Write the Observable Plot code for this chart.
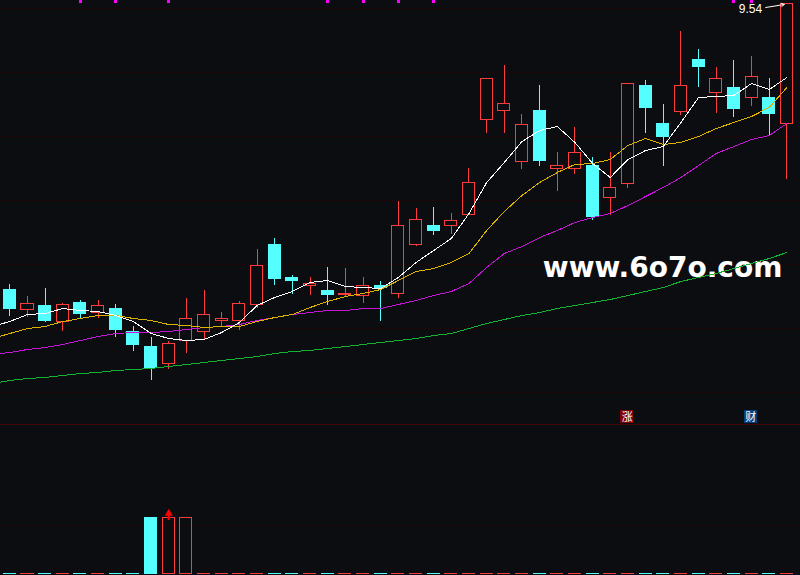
<!DOCTYPE html>
<html><head><meta charset="utf-8">
<script src="https://cdn.jsdelivr.net/npm/d3@7"></script>
<script src="https://cdn.jsdelivr.net/npm/@observablehq/plot@0.6"></script>
<style>html,body{margin:0;padding:0;background:#0c0d11;overflow:hidden}svg{display:block}</style>
</head><body><div id="c"></div>
<script>
const open=[6.68,6.47,6.52,6.35,6.55,6.44,6.49,6.26,6.11,5.93,6.16,6.25,6.36,6.36,6.52,7.13,6.80,6.71,6.67,6.62,6.61,6.72,6.63,7.12,7.32,7.31,7.42,8.37,8.46,7.95,8.47,7.88,7.88,7.92,7.59,7.73,8.72,8.34,8.45,8.98,8.64,8.70,8.59,8.60,8.33];
const close=[6.48,6.54,6.36,6.53,6.43,6.52,6.27,6.12,5.89,6.14,6.39,6.43,6.39,6.54,6.92,6.78,6.76,6.74,6.62,6.64,6.72,6.69,7.32,7.38,7.26,7.37,7.75,8.79,8.54,8.33,7.96,7.92,8.05,7.40,7.70,8.74,8.49,8.20,8.72,8.90,8.79,8.48,8.81,8.43,9.54];
const high=[6.73,6.61,6.69,6.54,6.57,6.57,6.53,6.31,6.20,6.16,6.59,6.67,6.45,6.56,7.08,7.19,6.82,6.80,6.90,6.89,6.80,6.76,7.56,7.49,7.50,7.44,7.89,8.79,8.92,8.43,8.72,8.05,8.30,8.00,8.05,8.74,8.77,8.53,9.26,9.08,8.90,8.97,9.01,8.79,9.54];
const low=[6.41,6.40,6.35,6.26,6.39,6.39,6.20,6.06,5.77,5.88,6.04,6.17,6.30,6.27,6.49,6.72,6.63,6.62,6.52,6.60,6.54,6.36,6.59,7.11,7.22,7.23,7.42,8.24,8.24,7.88,7.91,7.66,7.83,7.37,7.42,7.69,8.24,7.91,8.42,8.70,8.44,8.40,8.51,8.22,7.78];
// moving averages start one session before the first visible candle
const ma5=[6.31,6.36,6.43,6.44,6.49,6.47,6.46,6.42,6.36,6.24,6.19,6.17,6.18,6.25,6.35,6.52,6.60,6.66,6.75,6.77,6.71,6.70,6.69,6.80,6.95,7.07,7.19,7.44,7.75,7.95,8.16,8.27,8.31,8.15,7.94,7.80,7.98,8.07,8.11,8.35,8.60,8.61,8.62,8.74,8.68,8.80];
const ma10=[6.19,6.24,6.29,6.31,6.36,6.39,6.42,6.42,6.39,6.37,6.33,6.32,6.30,6.31,6.31,6.36,6.40,6.43,6.50,6.56,6.61,6.64,6.68,6.77,6.86,6.89,6.95,7.04,7.27,7.46,7.62,7.75,7.85,7.93,7.94,7.98,8.12,8.19,8.13,8.15,8.21,8.29,8.35,8.41,8.50,8.70];
const ma20=[6.03,6.05,6.08,6.10,6.13,6.17,6.21,6.24,6.25,6.25,6.26,6.28,6.30,6.31,6.33,6.37,6.40,6.43,6.45,6.47,6.47,6.49,6.49,6.53,6.57,6.62,6.66,6.74,6.90,7.04,7.11,7.20,7.27,7.35,7.40,7.44,7.52,7.61,7.70,7.80,7.92,8.04,8.11,8.18,8.22,8.34];
const ma60=[5.74,5.77,5.79,5.80,5.82,5.84,5.85,5.87,5.88,5.89,5.91,5.93,5.95,5.97,5.99,6.01,6.04,6.06,6.07,6.09,6.11,6.13,6.15,6.17,6.19,6.22,6.24,6.29,6.34,6.38,6.42,6.45,6.49,6.52,6.55,6.58,6.62,6.66,6.70,6.76,6.80,6.84,6.89,6.94,6.99,7.05];
const volume=[1,1,1,1,1,1,1,1,57,57,57,1,1,1,1,1,1,1,1,1,1,1,1,1,1,1,1,1,1,1,1,1,1,1,1,1,1,1,1,1,1,1,1,1,1];
const priceGrid=[9.49,8.85,8.21,7.57,6.93,6.29,5.65];
const topMarks=[4,6,9,18,20,22,24,41,42];
const badges=[{i:35,t:"涨",c:"#800000"},{i:42,t:"财",c:"#004080"}];

const RED="#ff3c3c",CYAN="#55ffff",GRID="#300707";
const xScale={type:"linear",domain:[-0.527,44.77],range:[0,800]};
const crisp={shapeRendering:"crispEdges"};
const candles=open.map((o,i)=>({i,o,c:close[i],h:high[i],l:low[i],top:Math.max(o,close[i]),bot:Math.min(o,close[i]),up:close[i]>=o,v:volume[i]}));
const ups=candles.filter(d=>d.up), downs=candles.filter(d=>!d.up);
const series=(a)=>a.map((v,k)=>({i:k-1,v}));
const W=0.37;
const line=(a,stroke)=>Plot.line(series(a),{x:"i",y:"v",stroke,strokeWidth:1,curve:"linear",...crisp});

const upper=Plot.plot({
  width:800,height:425,margin:0,
  style:{background:"transparent"},
  x:{...xScale,axis:null},
  y:{domain:[5.32,9.57],range:[425,0],axis:null},
  marks:[
    Plot.ruleY(priceGrid,{stroke:GRID,strokeWidth:1,strokeDasharray:"1 3",...crisp}),
    Plot.ruleY([5.325],{stroke:"#7a0000",strokeWidth:1}),
    Plot.text(["www.6o7o.com"],{x:36.96,y:6.89,fill:"#fff",fontSize:28,fontWeight:"bold",fontFamily:"DejaVu Sans",textAnchor:"middle",lineAnchor:"middle"}),
    Plot.ruleX(ups,{x:"i",y1:"h",y2:"top",stroke:RED,...crisp}),
    Plot.ruleX(ups,{x:"i",y1:"bot",y2:"l",stroke:RED,...crisp}),
    Plot.ruleX(downs,{x:"i",y1:"h",y2:"l",stroke:CYAN,...crisp}),
    Plot.rect(downs,{x1:d=>d.i-W,x2:d=>d.i+W,y1:"top",y2:"bot",fill:CYAN,...crisp}),
    Plot.rect(ups,{x1:d=>d.i-W,x2:d=>d.i+W,y1:"top",y2:"bot",fill:"none",stroke:RED,strokeWidth:1,inset:0.5,...crisp}),
    line(ma60,"#10b430"),
    line(ma20,"#c814d8"),
    line(ma10,"#dcb400"),
    line(ma5,"#ffffff"),
    Plot.ruleX(topMarks,{x:d=>d,y1:9.57,y2:9.54,stroke:"#ff00ff",strokeWidth:3,...crisp}),
    Plot.text(["9.54"],{x:42.6,y:9.48,fill:"#fff",fontSize:12,fontFamily:"Liberation Sans",textAnchor:"end",lineAnchor:"middle"}),
    Plot.arrow([0],{x1:42.8,y1:9.50,x2:43.85,y2:9.53,stroke:"#fff",strokeWidth:1,headLength:5,bend:false}),
    Plot.rect(badges,{x1:d=>d.i-W-0.04,x2:d=>d.i+W-0.04,y1:5.47,y2:5.34,fill:"c",...crisp}),
    Plot.text(badges,{x:d=>d.i-0.04,y:5.405,text:"t",fill:"#fff",fontSize:11,fontFamily:"Noto Sans CJK SC",textAnchor:"middle",lineAnchor:"middle"})
  ]
});
const tall=d=>d.v>1;
const lower=Plot.plot({
  width:800,height:150,margin:0,
  style:{background:"transparent"},
  x:{...xScale,axis:null},
  y:{domain:[0,149],range:[149,0],axis:null},
  marks:[
    Plot.ruleY([49],{stroke:GRID,strokeWidth:1,strokeDasharray:"1 3",...crisp}),
    Plot.rect(candles.filter(d=>!(d.up&&tall(d))),{x1:d=>d.i-W,x2:d=>d.i+W,y1:0,y2:"v",fill:d=>d.up?RED:CYAN,...crisp}),
    Plot.rect(candles.filter(d=>d.up&&tall(d)),{x1:d=>d.i-W,x2:d=>d.i+W,y1:0,y2:"v",fill:"none",stroke:RED,strokeWidth:1,inset:0.5,...crisp}),
    Plot.ruleX([9],{y1:54,y2:60,stroke:"#ff0000",strokeWidth:2}),
    Plot.dot([9],{x:d=>d,y:61,symbol:"triangle",r:3,fill:"#ff0000"})
  ]
});
document.getElementById("c").append(upper,lower);
</script></body></html>
